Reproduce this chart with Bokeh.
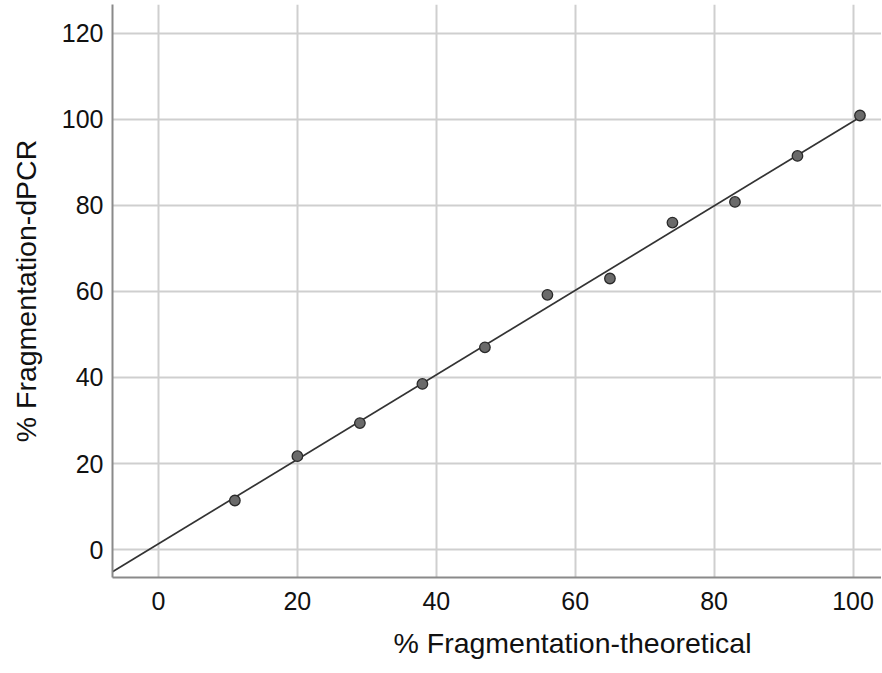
import numpy as np
from bokeh.plotting import figure
from bokeh.models import Range1d, FixedTicker, Title
from bokeh.embed import file_html
from bokeh.resources import INLINE

# Data
theoretical = [11, 20, 29, 38, 47, 56, 65, 74, 83, 92, 101]
dpcr = [11.4, 21.7, 29.4, 38.5, 47.0, 59.2, 63.0, 76.0, 80.8, 91.5, 100.9]
x_ticks = [0, 20, 40, 60, 80, 100]
y_ticks = [0, 20, 40, 60, 80, 100, 120]
x_label = "% Fragmentation-theoretical"
y_label = "% Fragmentation-dPCR"

x_lo, x_hi = -6.62, 104.1
y_lo, y_hi = -6.5, 126.7

p = figure(width=881, height=672, output_backend="svg", toolbar_location=None,
           x_range=Range1d(x_lo, x_hi), y_range=Range1d(y_lo, y_hi),
           min_border_left=112, min_border_right=0, min_border_top=4,
           min_border_bottom=95)
p.outline_line_color = None
p.background_fill_color = "white"

FONT = "Liberation Sans"
for ax, ticks in ((p.xaxis[0], x_ticks), (p.yaxis[0], y_ticks)):
    ax.ticker = FixedTicker(ticks=ticks)
    ax.major_tick_out = 0
    ax.major_tick_in = 0
    ax.minor_tick_out = 0
    ax.minor_tick_in = 0
    ax.axis_line_color = "#8a8a8a"
    ax.axis_line_width = 2
    ax.major_label_text_font = FONT
    ax.major_label_text_font_size = "25px"
    ax.major_label_text_color = "#111111"
    ax.axis_label_text_font = FONT
    ax.axis_label_text_font_size = "28.5px"
    ax.axis_label_text_font_style = "normal"
    ax.axis_label_text_color = "#111111"

p.yaxis.axis_label = y_label
p.xaxis.major_label_standoff = 14
p.yaxis.major_label_standoff = 9
p.yaxis.axis_label_standoff = 17

# x-axis title, placed off-centre as in the reference
xt = Title(text=x_label, align="left", offset=281, standoff=25,
           text_font=FONT, text_font_size="28.5px", text_font_style="normal",
           text_color="#111111")
p.add_layout(xt, "below")

p.xgrid.ticker = FixedTicker(ticks=x_ticks)
p.ygrid.ticker = FixedTicker(ticks=y_ticks)
for g in (p.xgrid[0], p.ygrid[0]):
    g.grid_line_color = "#cfcfcf"
    g.grid_line_width = 2

# Linear fit line derived from the data
slope, intercept = np.polyfit(theoretical, dpcr, 1)
fx = [x_lo, max(theoretical)]
fy = [intercept + slope * v for v in fx]
p.line(fx, fy, line_color="#333333", line_width=1.7)

p.scatter(theoretical, dpcr, size=10.5, fill_color="#6a6a6a",
          line_color="#2a2a2a", line_width=1.3)

open("out.html", "w").write(file_html(p, INLINE))
